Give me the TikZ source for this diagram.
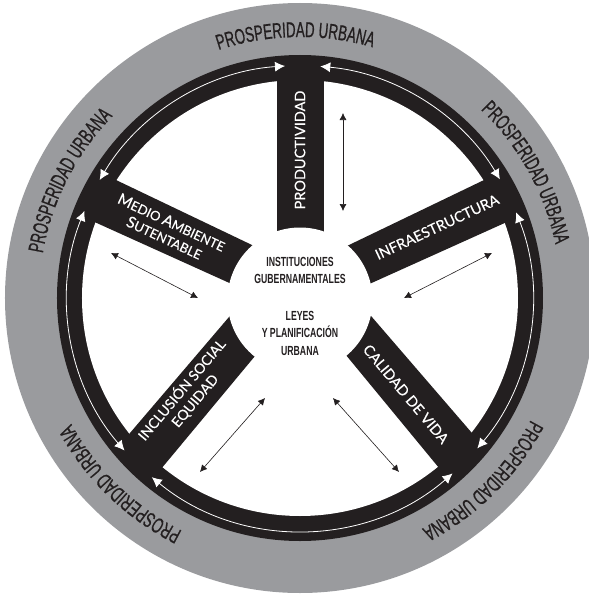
\documentclass[tikz,border=0pt]{standalone}
\usepackage{fontspec}
\newfontfamily\spokefont[FakeBold=0.35]{Lato}
\newfontfamily\ringfont[FakeStretch=0.62,FakeBold=0.7]{Liberation Sans}
\newfontfamily\hubfont[FakeStretch=0.66]{Liberation Sans}
\usetikzlibrary{arrows.meta,decorations.text}

\definecolor{ringgrey}{RGB}{154,155,158}
\definecolor{spokeblack}{RGB}{35,31,32}

\tikzset{
  spoketext/.style={text=white, align=center, inner sep=0pt, font=\spokefont\fontsize{14.5}{17}\selectfont},
  hubtext/.style={text=spokeblack, align=center, inner sep=0pt, font=\hubfont\bfseries\fontsize{13.2}{17.5}\selectfont},
  ringarrow/.style={white, line width=0.8pt, {Latex[length=10pt,width=10pt]}-{Latex[length=10pt,width=10pt]}},
  linkarrow/.style={spokeblack, line width=0.6pt, {Latex[length=7pt,width=7pt]}-{Latex[length=7pt,width=7pt]}}
}

\begin{document}
\begin{tikzpicture}[x=1pt,y=1pt]
      \useasboundingbox (-300,-297) rectangle (289,298);
      %% \draw [help lines] (-300,-297) grid [step=50] (289,298);

      \begin{scope}
      \clip (-300,-297) rectangle (289,298);
      \fill [ringgrey] (0,0) circle (295);
      \end{scope}
      \fill [spokeblack] (0,0) circle (243);
      \fill [white] (0,0) circle (218);

      \fill [spokeblack] (-23,60) rectangle (24.5,225);
      \fill [spokeblack] (38,47.7) -- (193,122.3) -- (212,78.3) -- (62,10.7) -- cycle;
      \fill [spokeblack] (-39,48.7) -- (-193,122.3) -- (-215,80.3) -- (-61,10.7) -- cycle;
      \fill [spokeblack] (-64.5,-11.4) -- (-176.5,-142.6) -- (-144.5,-177.6) -- (-39.5,-51.4) -- cycle;
      \fill [spokeblack] (64.5,-10.4) -- (178.5,-142.6) -- (144.5,-176.6) -- (40.5,-50.4) -- cycle;
      \fill [white] (0,-2) circle (72.5);

      \foreach \s/\e in {93.7/149.5,85/30.7,21.6/-40.3,-49/-129.6,-139/-202}
        \draw [ringarrow] (\s:232.5) arc [start angle=\s, end angle=\e, radius=232.5];

      \foreach \a in {91,29,-45,-134,153}
        \path [decorate, decoration={text along path, text align=center,
          text={|\ringfont\fontsize{21.5}{21.5}\selectfont\color{spokeblack}|PROSPERIDAD URBANA}}]
          (\a+30:261) arc [start angle=\a+30, end angle=\a-30, radius=261];

      \node (prod) [spoketext, rotate=90] at (0,148) {PRODUCTIVIDAD};
      \node (infra) [spoketext, rotate=25] at (137,71) {INFRAESTRUCTURA};
      \node (medio) [spoketext, rotate=-25, font=\spokefont\fontsize{13}{17}\selectfont] at (-132,68)
      {{\fontsize{15.5}{17}\selectfont M}EDIO {\fontsize{15.5}{17}\selectfont A}MBIENTE\\{\fontsize{15.5}{17}\selectfont S}UTENTABLE};
      \node (inclusion) [spoketext, rotate=50, font=\spokefont\fontsize{14}{17}\selectfont] at (-112,-97) {INCLUSIÓN SOCIAL\\EQUIDAD};
      \node (calidad) [spoketext, rotate=-50, font=\spokefont\fontsize{14.5}{17}\selectfont] at (106,-96) {CALIDAD DE VIDA};

      \node (inst) [hubtext] at (0,27.5) {INSTITUCIONES\\GUBERNAMENTALES};
      \node (leyes) [hubtext] at (0,-35) {LEYES\\Y PLANIFICACIÓN\\URBANA};

      \coordinate (prodA) at (43,185);
      \coordinate (prodB) at (43,87);
      \coordinate (infraA) at (192,45);
      \coordinate (infraB) at (104,0);
      \coordinate (medioA) at (-189,45);
      \coordinate (medioB) at (-102,0);
      \coordinate (inclA) at (-35,-100);
      \coordinate (inclB) at (-100,-174);
      \coordinate (caliA) at (33,-100);
      \coordinate (caliB) at (99,-174);
      \foreach \p/\q in {prodA/prodB,infraA/infraB,medioA/medioB,inclA/inclB,caliA/caliB}
        \draw [linkarrow] (\p) -- (\q);

   \end{tikzpicture}
\end{document}
